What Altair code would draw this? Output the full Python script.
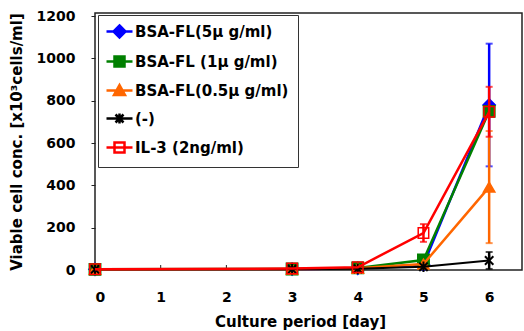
import altair as alt
import pandas as pd

days = [0, 3, 4, 5, 6]
series_names = ["BSA-FL(5μ g/ml)", "BSA-FL (1μ g/ml)", "BSA-FL(0.5μ g/ml)", "(-)", "IL-3 (2ng/ml)"]
bsa5 = [3, 4, 8, 25, 780]
bsa5_err = [0, 0, 0, 0, 290]
bsa1 = [3, 5, 10, 47, 750]
bsa1_err = [0, 0, 0, 0, 20]
bsa05 = [3, 4, 8, 28, 392]
bsa05_err = [0, 0, 0, 0, 265]
neg = [3, 4, 6, 15, 45]
neg_err = [0, 0, 0, 0, 40]
il3 = [4, 7, 13, 175, 748]
il3_err = [0, 0, 0, 42, 118]
x_ticks = [0, 1, 2, 3, 4, 5, 6]
y_ticks = [0, 200, 400, 600, 800, 1000, 1200]

values = [bsa5, bsa1, bsa05, neg, il3]
errors = [bsa5_err, bsa1_err, bsa05_err, neg_err, il3_err]
colors = ["#0000FF", "#008000", "#FF6600", "#000000", "#FF0000"]
fills = ["#0000FF", "#008000", "#FF6600", "#000000", "transparent"]
shapes = ["diamond", "square", "triangle-up",
          "M0,-1L0,1M-0.8,-0.8L0.8,0.8M-0.8,0.8L0.8,-0.8", "square"]
sizes = [150, 130, 130, 110, 110]
legend_paths = [
    "M-2.6,0L2.6,0M0,-1.2L1.2,0L0,1.2L-1.2,0Z",
    "M-2.6,0L2.6,0M-1,-1L1,-1L1,1L-1,1Z",
    "M-2.6,0L2.6,0M0,-1.1L1.1,0.9L-1.1,0.9Z",
    "M-2.6,0L2.6,0M0,-1L0,1M-0.8,-0.8L0.8,0.8M-0.8,0.8L0.8,-0.8",
    "M-2.6,0L2.6,0M-1,-1L1,-1L1,1L-1,1Z",
]

W, H = 427, 257
FONT = "DejaVu Sans"

X = alt.X("day:Q", scale=alt.Scale(domain=[0, 6.5], nice=False, zero=False),
          axis=alt.Axis(values=x_ticks, title="Culture period [day]", ticks=False,
                        domain=False, grid=False, labelPadding=20, titlePadding=10,
                        titleX=205, format="d"))
Y = alt.Y("v:Q", scale=alt.Scale(domain=[0, 1215], nice=False),
          axis=alt.Axis(values=y_ticks, title="Viable cell conc. [x10³cells/ml]",
                        tickSize=4, domain=False, grid=False, labelPadding=16,
                        titlePadding=12, format="d"))

rows = []
for name, vals, errs in zip(series_names, values, errors):
    for d, v, e in zip(days, vals, errs):
        rows.append({"series": name, "day": d, "v": v, "err": e})
df = pd.DataFrame(rows)
df["lo"] = (df["v"] - df["err"]).clip(lower=0)
df["hi"] = df["v"] + df["err"]

tick_df = pd.DataFrame({"day": x_ticks})
layers = [
    alt.Chart(tick_df).mark_rule(color="#222", strokeWidth=1).encode(
        x=X, y=alt.value(H), y2=alt.value(H - 5))
]

for i, name in enumerate(series_names):
    sdf = df[df["series"] == name]
    edf = sdf[sdf["err"] > 0]
    cap = pd.concat([edf.assign(v=edf["lo"]), edf.assign(v=edf["hi"])])
    c = colors[i]
    sw = 2 if name == "(-)" else 2.5
    layers.append(alt.Chart(sdf).mark_line(color=c, strokeWidth=sw).encode(x=X, y=Y))
    if len(edf):
        layers.append(alt.Chart(edf).mark_rule(color=c, strokeWidth=2.5).encode(
            x=X, y=Y, y2="hi:Q").transform_calculate(v="datum.lo"))
        layers.append(alt.Chart(cap).mark_tick(color=c, orient="horizontal", size=7,
                                               thickness=2).encode(x=X, y=Y))
    layers.append(alt.Chart(sdf).mark_point(
        shape=shapes[i], color=c, fill=fills[i], filled=True, opacity=1,
        stroke=c, strokeWidth=1.5 if name != "(-)" else 2, size=sizes[i]).encode(x=X, y=Y))

leg = alt.Legend(title=None, orient="none", legendX=3, legendY=2,
                 strokeColor="#333", fillColor="white", padding=9,
                 labelFont=FONT, labelFontSize=15, labelFontWeight="bold",
                 labelColor="black", symbolSize=100, symbolStrokeWidth=2.5,
                 symbolOpacity=1, symbolOffset=5, labelOffset=8, rowPadding=8,
                 labelLimit=300)

legend_layer = alt.Chart(df).mark_point(opacity=0, size=100).encode(
    x=X, y=Y,
    color=alt.Color("series:N", scale=alt.Scale(domain=series_names, range=colors), legend=leg),
    fill=alt.Fill("series:N", scale=alt.Scale(domain=series_names, range=fills), legend=leg),
    shape=alt.Shape("series:N", scale=alt.Scale(domain=series_names, range=legend_paths), legend=leg),
)
layers.append(legend_layer)

chart = alt.layer(*layers).properties(
    width=W, height=H,
    autosize=alt.AutoSizeParams(type="none"),
    padding={"left": 95, "top": 13, "right": 2, "bottom": 61},
    background="white",
).configure_view(stroke="#222", strokeWidth=1.5).configure_axis(
    labelFont=FONT, labelFontSize=14, labelFontWeight="bold", labelColor="black",
    titleFont=FONT, titleFontSize=15, titleFontWeight="bold", titleColor="black",
    tickColor="#222",
)

chart.save("out.html", embed_options={"renderer": "svg", "actions": False})
